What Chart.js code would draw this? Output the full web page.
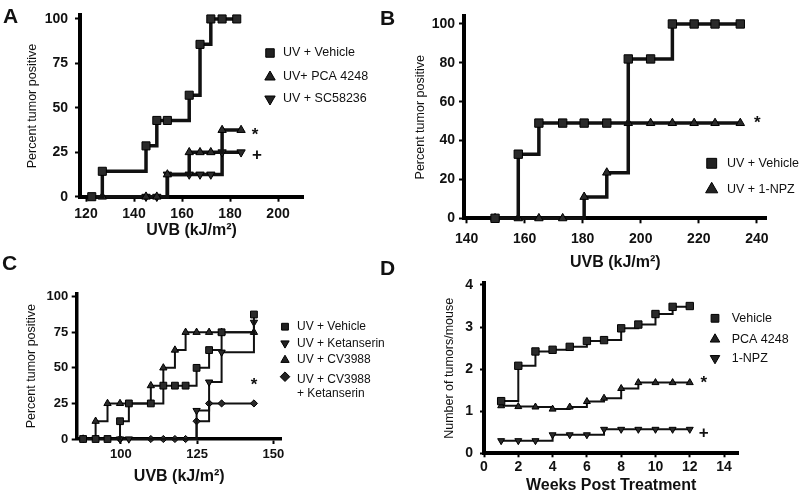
<!DOCTYPE html>
<html lang="en">
<head>
<meta charset="UTF-8">
<title>UVB tumor incidence</title>
<style>
  body { margin: 0; background: #fff; }
  #fig { position: relative; width: 800px; height: 499px; overflow: hidden; font-family: Arial, "Liberation Sans", sans-serif; }
  #fig canvas { position: absolute; }
  .tag { position: absolute; font-weight: bold; font-size: 21px; line-height: 1; color: #111; }
</style>
<script src="https://cdn.jsdelivr.net/npm/chart.js"></script>
</head>
<body>
<div id="fig">
  <canvas id="chartA" width="400" height="250" style="left:0;top:0"></canvas>
  <canvas id="chartB" width="400" height="275" style="left:400px;top:0"></canvas>
  <canvas id="chartC" width="400" height="249" style="left:0;top:250px"></canvas>
  <canvas id="chartD" width="400" height="249" style="left:400px;top:250px"></canvas>
  <div class="tag" style="left:3px;top:5px">A</div>
  <div class="tag" style="left:380px;top:7px">B</div>
  <div class="tag" style="left:2px;top:252px">C</div>
  <div class="tag" style="left:380px;top:257px">D</div>
</div>
<script>
// ---- panel A: UVB dose vs percent tumor positive ----
const doseA_vehicle = [122.4, 126.8, 145, 149.5, 153.9, 163, 167.5, 172, 176.7, 182.8];
const pctA_vehicle  = [0, 14.3, 28.6, 42.9, 42.9, 57.1, 85.7, 100, 100, 100];
const doseA_pca     = [126.8, 145, 149.5, 153.9, 163, 167.5, 172, 176.7, 184.6];
const pctA_pca      = [0, 0, 0, 12.5, 25, 25, 25, 37.5, 37.5];
const doseA_sc      = [145, 149.5, 153.9, 163, 167.5, 172, 176.7, 184.6];
const pctA_sc       = [0, 0, 12.5, 12.5, 12.5, 12.5, 25, 25];
const labelsA = ['UV + Vehicle', 'UV+ PCA 4248', 'UV + SC58236'];
const xTicksA = [120, 140, 160, 180, 200];
const yTicksA = [0, 25, 50, 75, 100];

// ---- panel B ----
const doseB = [149.8, 157.8, 164.9, 173.1, 180.5, 188.3, 195.7, 203.4, 210.9, 218.4, 225.6, 234.3];
const pctB_vehicle = [0, 33, 49, 49, 49, 49, 82, 82, 100, 100, 100, 100];
const pctB_npz     = [0, 0, 0, 0, 11, 23.5, 49, 49, 49, 49, 49, 49];
const labelsB = ['UV + Vehicle', 'UV + 1-NPZ'];
const xTicksB = [140, 160, 180, 200, 220, 240];
const yTicksB = [0, 20, 40, 60, 80, 100];

// ---- panel C ----
const doseC_vehicle = [87.6, 91.7, 95.6, 99.7, 102.6, 109.8, 113.9, 117.7, 121.2, 124.8, 128.9, 133, 143.6];
const pctC_vehicle  = [0, 0, 0, 12.5, 25, 25, 37.5, 37.5, 37.5, 50, 62.5, 75, 87.5];
const doseC_ket     = [99.7, 102.6, 124.8, 128.9, 133, 143.6];
const pctC_ket      = [0, 0, 20, 40, 61, 82];
const doseC_cv      = [87.6, 91.7, 95.6, 99.7, 109.8, 113.9, 117.7, 121.2, 124.8, 128.9, 133, 143.6];
const pctC_cv       = [0, 12.5, 25, 25, 37.5, 50, 62.5, 75, 75, 75, 75, 75];
const doseC_cvket   = [87.6, 99.7, 109.8, 113.9, 117.7, 121.2, 124.8, 128.9, 133, 143.6];
const pctC_cvket    = [0, 0, 0, 0, 0, 0, 12.5, 25, 25, 25];
const labelsC = ['UV + Vehicle', 'UV + Ketanserin', 'UV + CV3988', 'UV + CV3988\n+ Ketanserin'];
const xTicksC = [100, 125, 150];
const yTicksC = [0, 25, 50, 75, 100];

// ---- panel D: tumors per mouse by week ----
const weeksD = [1, 2, 3, 4, 5, 6, 7, 8, 9, 10, 11, 12];
const tumorsD_vehicle = [1.24, 2.08, 2.42, 2.46, 2.53, 2.67, 2.69, 2.97, 3.06, 3.31, 3.48, 3.50];
const tumorsD_pca     = [1.13, 1.11, 1.10, 1.05, 1.10, 1.23, 1.31, 1.54, 1.68, 1.68, 1.68, 1.68];
const tumorsD_npz     = [0.30, 0.30, 0.30, 0.44, 0.44, 0.44, 0.57, 0.57, 0.57, 0.57, 0.57, 0.57];
const labelsD = ['Vehicle', 'PCA 4248', '1-NPZ'];
const xTicksD = [0, 2, 4, 6, 8, 10, 12, 14];
const yTicksD = [0, 1, 2, 3, 4];

Chart.defaults.font.family = 'Arial, "Liberation Sans", Helvetica, sans-serif';
Chart.defaults.color = '#111';

function pts(xs, ys) {
  return xs.map((x, i) => ({ x: x, y: ys[i] }));
}

function series(label, xs, ys, shape, radius, rotation, lineWidth) {
  return {
    label: label,
    data: pts(xs, ys),
    stepped: 'before',
    borderColor: '#111',
    borderWidth: lineWidth,
    pointStyle: shape,
    pointRotation: rotation || 0,
    pointRadius: radius,
    pointBackgroundColor: '#2a2a2a',
    pointBorderColor: '#000',
    pointBorderWidth: 1,
    clip: false
  };
}

// legend + significance marks, drawn after the datasets
const notesPlugin = {
  id: 'notes',
  afterDraw(chart, args, opts) {
    const ctx = chart.ctx;
    ctx.save();
    const lg = opts.legend;
    chart.data.datasets.forEach((ds, i) => {
      const y = lg.ys[i];
      ctx.fillStyle = '#222';
      ctx.strokeStyle = '#000';
      ctx.lineWidth = 1;
      Chart.helpers.drawPoint(ctx, {
        pointStyle: ds.pointStyle, rotation: ds.pointRotation,
        radius: lg.radius, borderWidth: 1
      }, lg.x, y);
      ctx.fillStyle = '#111';
      ctx.font = lg.font + 'px Arial, "Liberation Sans", sans-serif';
      ctx.textAlign = 'left';
      ctx.textBaseline = 'middle';
      ds.label.split('\n').forEach((line, k) => {
        ctx.fillText(line, lg.textX, y + (k ? lg.lineGap * k + lg.shift : (ds.label.includes('\n') ? lg.shift : 0)));
      });
    });
    (opts.marks || []).forEach(m => {
      const d = chart.data.datasets[m.ds].data;
      const last = d[d.length - 1];
      const px = chart.scales.x.getPixelForValue(last.x) + m.dx;
      const py = chart.scales.y.getPixelForValue(last.y) + m.dy;
      ctx.fillStyle = '#111';
      ctx.font = 'bold ' + m.size + 'px Arial, "Liberation Sans", sans-serif';
      ctx.textAlign = 'center';
      ctx.textBaseline = 'middle';
      ctx.fillText(m.text, px, py);
    });
    ctx.restore();
  }
};

function panel(id, p) {
  const yTitleLH = p.yTitleSize * 1.2;
  const xTitleLH = p.xTitleSize * 1.2;
  const padLeft = p.yTitleX - yTitleLH / 2;
  const xAxisBottom = p.xTitleY + xTitleLH / 2;
  const pad = { left: padLeft, top: p.area.top, right: p.W - p.area.right, bottom: p.H - xAxisBottom };
  const yWidth = p.area.left - padLeft;
  const xHeight = xAxisBottom - p.area.bottom;
  const axisBase = {
    type: 'linear',
    grid: { display: true, drawOnChartArea: false, drawTicks: true, tickLength: p.tickLen, tickWidth: 2, color: '#000' },
    border: { display: true, width: p.axisWidth, color: '#000' }
  };
  return new Chart(document.getElementById(id), {
    type: 'line',
    data: { datasets: p.datasets },
    options: {
      responsive: false,
      animation: false,
      layout: { padding: pad },
      plugins: {
        legend: { display: false },
        tooltip: { enabled: false },
        notes: { legend: p.legend, marks: p.marks }
      },
      scales: {
        x: Object.assign({}, axisBase, {
          min: p.xRange[0], max: p.xRange[1],
          ticks: { font: { size: p.tickSize, weight: 'bold' }, color: '#111', padding: p.xTickPad, maxRotation: 0, autoSkip: false },
          title: { display: true, text: p.xTitle, font: { size: p.xTitleSize, weight: 'bold' }, color: '#111', padding: 0 },
          afterBuildTicks: s => { s.ticks = p.xTicks.map(v => ({ value: v })); },
          afterFit: s => { s.height = xHeight; s.paddingLeft = 0; s.paddingRight = 0; }
        }),
        y: Object.assign({}, axisBase, {
          min: p.yRange[0], max: p.yRange[1],
          ticks: { font: { size: p.tickSize, weight: 'bold' }, color: '#111', padding: p.yTickPad },
          title: { display: true, text: p.yTitle, font: { size: p.yTitleSize }, color: '#111', padding: 0 },
          afterBuildTicks: s => { s.ticks = p.yTicks.map(v => ({ value: v })); },
          afterFit: s => { s.width = yWidth; s.paddingTop = 0; s.paddingBottom = 0; }
        })
      }
    },
    plugins: [notesPlugin]
  });
}

panel('chartA', {
  W: 400, H: 250,
  area: { left: 80, right: 303, top: 15.4, bottom: 196.7 },
  xRange: [117.5, 210.4], yRange: [0, 102],
  xTicks: xTicksA, yTicks: yTicksA,
  tickSize: 14, tickLen: 5, xTickPad: 4, yTickPad: 7, axisWidth: 4,
  xTitle: 'UVB (kJ/m²)', xTitleSize: 16, xTitleY: 231,
  yTitle: 'Percent tumor positive', yTitleSize: 12.5, yTitleX: 33,
  datasets: [
    series(labelsA[0], doseA_vehicle, pctA_vehicle, 'rect', 5.7, 0, 3.5),
    series(labelsA[1], doseA_pca, pctA_pca, 'triangle', 4.8, 0, 3.5),
    series(labelsA[2], doseA_sc, pctA_sc, 'triangle', 4.8, 180, 3.5)
  ],
  legend: { x: 270, textX: 283, ys: [53, 77, 99], radius: 6, font: 12.5, lineGap: 14, shift: 0 },
  marks: [
    { ds: 1, text: '*', dx: 14, dy: 5, size: 17 },
    { ds: 2, text: '+', dx: 16, dy: 3, size: 17 }
  ]
});

panel('chartB', {
  W: 400, H: 275,
  area: { left: 64, right: 366.7, top: 16.2, bottom: 218.3 },
  xRange: [139.1, 243.4], yRange: [0, 104],
  xTicks: xTicksB, yTicks: yTicksB,
  tickSize: 14, tickLen: 5, xTickPad: 7, yTickPad: 4, axisWidth: 4,
  xTitle: 'UVB (kJ/m²)', xTitleSize: 16, xTitleY: 263,
  yTitle: 'Percent tumor positive', yTitleSize: 12.5, yTitleX: 20.7,
  datasets: [
    series(labelsB[0], doseB, pctB_vehicle, 'rect', 5.9, 0, 3.5),
    series(labelsB[1], doseB, pctB_npz, 'triangle', 4.9, 0, 3.5)
  ],
  legend: { x: 311.7, textX: 327, ys: [163.3, 189.3], radius: 7, font: 12.5, lineGap: 14, shift: 0 },
  marks: [
    { ds: 1, text: '*', dx: 17, dy: 0, size: 17 }
  ]
});

panel('chartC', {
  W: 400, H: 249,
  area: { left: 76.7, right: 281.7, top: 43.3, bottom: 189 },
  xRange: [85.5, 152.7], yRange: [0, 102.4],
  xTicks: xTicksC, yTicks: yTicksC,
  tickSize: 13, tickLen: 5, xTickPad: 3, yTickPad: 3.4, axisWidth: 3.5,
  xTitle: 'UVB (kJ/m²)', xTitleSize: 16, xTitleY: 226.7,
  yTitle: 'Percent tumor positive', yTitleSize: 12.5, yTitleX: 31.7,
  datasets: [
    series(labelsC[0], doseC_vehicle, pctC_vehicle, 'rect', 4.8, 0, 2),
    series(labelsC[1], doseC_ket, pctC_ket, 'triangle', 4.2, 180, 2),
    series(labelsC[2], doseC_cv, pctC_cv, 'triangle', 4.2, 0, 2),
    series(labelsC[3], doseC_cvket, pctC_cvket, 'rectRot', 3.6, 0, 2)
  ],
  legend: { x: 285, textX: 297, ys: [76.7, 93.3, 110, 126.7], radius: 4.8, font: 12, lineGap: 14, shift: 3 },
  marks: [
    { ds: 3, text: '*', dx: 0, dy: -18, size: 17 }
  ]
});

panel('chartD', {
  W: 400, H: 249,
  area: { left: 84, right: 338.3, top: 33.3, bottom: 203.3 },
  xRange: [0, 14.83], yRange: [0, 4.04],
  xTicks: xTicksD, yTicks: yTicksD,
  tickSize: 14, tickLen: 4, xTickPad: 1, yTickPad: 7, axisWidth: 4,
  xTitle: 'Weeks Post Treatment', xTitleSize: 16, xTitleY: 236,
  yTitle: 'Number of tumors/mouse', yTitleSize: 12.5, yTitleX: 50,
  datasets: [
    series(labelsD[0], weeksD, tumorsD_vehicle, 'rect', 5.2, 0, 2),
    series(labelsD[1], weeksD, tumorsD_pca, 'triangle', 4, 0, 2),
    series(labelsD[2], weeksD, tumorsD_npz, 'triangle', 4, 180, 2)
  ],
  legend: { x: 315, textX: 331.7, ys: [68.3, 89.3, 108.3], radius: 5.5, font: 12.5, lineGap: 14, shift: 0 },
  marks: [
    { ds: 1, text: '*', dx: 14, dy: 1, size: 17 },
    { ds: 2, text: '+', dx: 14, dy: 4, size: 17 }
  ]
});
</script>
</body>
</html>
